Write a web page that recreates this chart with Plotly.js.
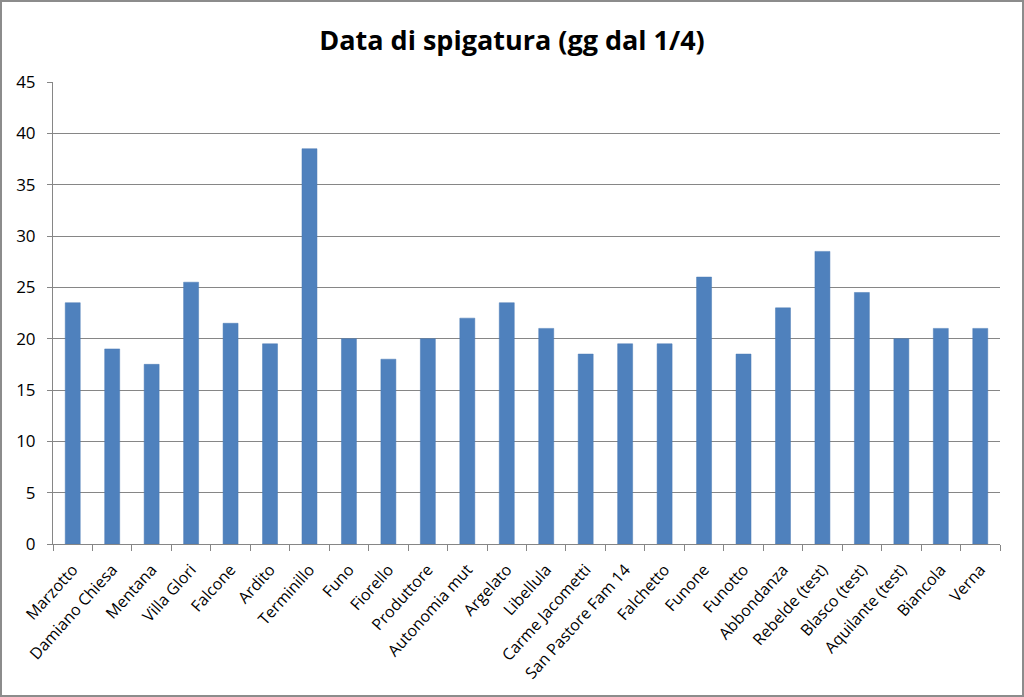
<!DOCTYPE html>
<html>
<head>
<meta charset="utf-8">
<script src="https://cdn.plot.ly/plotly-3.0.1.min.js"></script>
<style>
html,body{margin:0;padding:0;background:#fff;}
#chart{width:1020px;height:693px;border:2px solid #8c8c8c;}
</style>
</head>
<body>
<div id="chart"></div>
<script>
const categories = ["Marzotto","Damiano Chiesa","Mentana","Villa Glori","Falcone","Ardito","Terminillo","Funo","Fiorello","Produttore","Autonomia mut","Argelato","Libellula","Carme Jacometti","San Pastore Fam 14","Falchetto","Funone","Funotto","Abbondanza","Rebelde (test)","Blasco (test)","Aquilante (test)","Biancola","Verna"];
const values = [23.5,19,17.5,25.5,21.5,19.5,38.5,20,18,20,22,23.5,21,18.5,19.5,19.5,26,18.5,23,28.5,24.5,20,21,21];
const yTicks = [0,5,10,15,20,25,30,35,40,45];

const font = "Open Sans, Lato, sans-serif";
Plotly.newPlot("chart", [{
  type: "bar",
  x: categories,
  y: values,
  marker: {color: "#4f81bd", line: {color: "#4a7ab5", width: 0.5}},
  hoverinfo: "x+y"
}], {
  width: 1020, height: 693,
  margin: {l: 51, r: 22, t: 80, b: 151, pad: 0},
  paper_bgcolor: "#fff", plot_bgcolor: "#fff",
  bargap: 0.62,
  showlegend: false,
  title: {text: "<b>Data di spigatura (gg dal 1/4)</b>", x: 0.5, xanchor: "center", y: 0.945, yanchor: "middle",
          font: {family: font, size: 27, color: "#000"}},
  xaxis: {
    type: "category", tickangle: -48, tickson: "boundaries", ticks: "outside", ticklen: 6,
    tickcolor: "#868686", showline: true, linecolor: "#868686", linewidth: 1,
    showgrid: false, tickfont: {family: font, size: 16, color: "#000"}, automargin: false,
    ticklabelstandoff: 9
  },
  yaxis: {
    range: [0, 45], tickvals: yTicks, ticks: "outside", ticklen: 5, tickcolor: "#868686",
    showline: true, linecolor: "#868686", linewidth: 1, zeroline: false,
    gridcolor: "#868686", gridwidth: 1, tickfont: {family: font, size: 17, color: "#000"}, automargin: false,
    ticklabelstandoff: 8
  }
}, {displayModeBar: false, staticPlot: true});
</script>
</body>
</html>
